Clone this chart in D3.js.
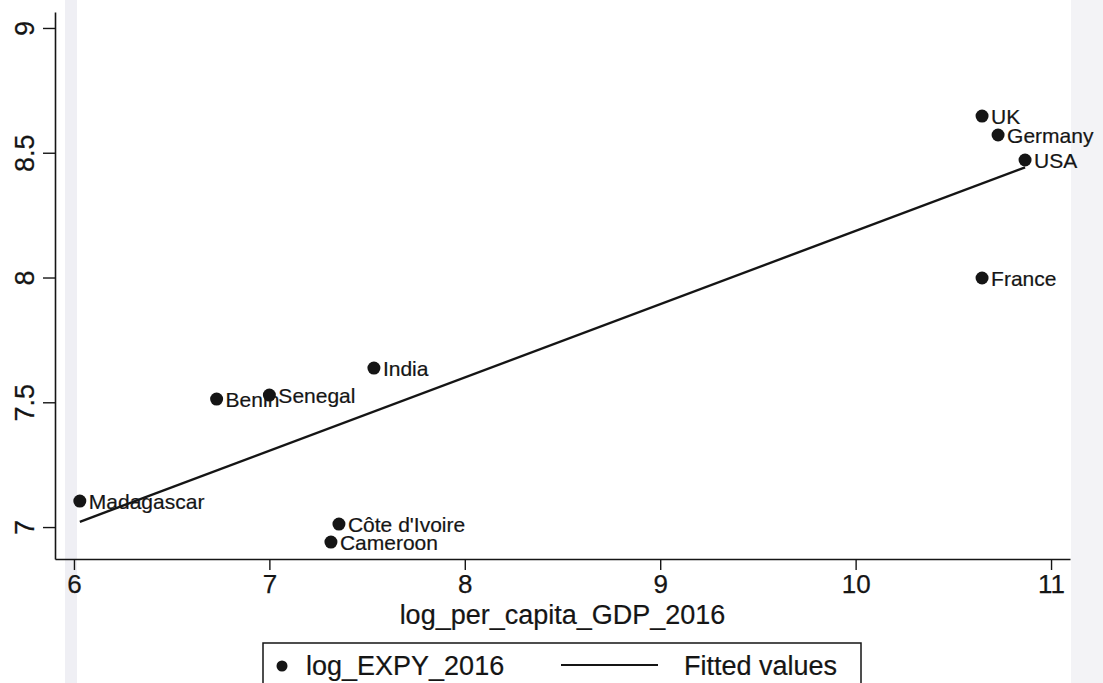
<!DOCTYPE html>
<html>
<head>
<meta charset="utf-8">
<script src="https://cdn.jsdelivr.net/npm/d3@7/dist/d3.min.js"></script>
<style>
  html, body { margin: 0; padding: 0; background: #ffffff; }
  svg { display: block; font-family: "Liberation Sans", Arial, sans-serif; }
</style>
</head>
<body>
<svg id="chart" width="1103" height="683"></svg>
<script>
// Countries with log per-capita GDP (2016) and log EXPY (2016)
const countries = ["Madagascar", "Benin", "Senegal", "India", "Côte d'Ivoire", "Cameroon", "UK", "Germany", "USA", "France"];
const logGDP   = [6.03, 6.73, 7.00, 7.535, 7.356, 7.315, 10.647, 10.729, 10.867, 10.647];
const logEXPY  = [7.104, 7.513, 7.529, 7.637, 7.012, 6.940, 8.647, 8.571, 8.471, 7.998];

const xTicks = [6, 7, 8, 9, 10, 11];
const yTicks = [7, 7.5, 8, 8.5, 9];
const xTitle = "log_per_capita_GDP_2016";
const legendLabels = ["log_EXPY_2016", "Fitted values"];

const svg = d3.select("#chart");
const ink = "#151515";

// faint scanner bands
svg.append("rect").attr("x", 65).attr("y", 0).attr("width", 12).attr("height", 683)
  .attr("fill", "#eaeaf0").attr("opacity", 0.75);
svg.append("rect").attr("x", 1071).attr("y", 0).attr("width", 32).attr("height", 683)
  .attr("fill", "#f3f3f6");

// plot region
const plot = { left: 55, right: 1070, top: 12, bottom: 559 };

const x = d3.scaleLinear().domain([5.903, 11.097]).range([plot.left, plot.right]);
const y = d3.scaleLinear().domain([6.872, 9.064]).range([plot.bottom, plot.top]);

// least-squares fit of log_EXPY on log GDP
const mx = d3.mean(logGDP), my = d3.mean(logEXPY);
const sxy = d3.sum(logGDP, (v, i) => (v - mx) * (logEXPY[i] - my));
const sxx = d3.sum(logGDP, v => (v - mx) * (v - mx));
const slope = sxy / sxx, intercept = my - slope * mx;
const fitted = d3.extent(logGDP).map(v => [v, intercept + slope * v]);

// axes
const xAxis = d3.axisBottom(x).tickValues(xTicks).tickFormat(d3.format("d"))
  .tickSizeInner(11).tickSizeOuter(0);
const yAxis = d3.axisLeft(y).tickValues(yTicks).tickFormat(d => String(d))
  .tickSizeInner(12).tickSizeOuter(0);

const gx = svg.append("g").attr("transform", `translate(0,${plot.bottom})`).call(xAxis);
gx.select(".domain").attr("stroke", ink).attr("stroke-width", 1.6);
gx.selectAll(".tick line").attr("stroke", ink).attr("stroke-width", 1.4);
gx.selectAll(".tick text").attr("fill", ink).attr("font-size", 26)
  .attr("stroke", ink).attr("stroke-width", 0.25)
  .attr("y", 34).attr("dy", null);

const gy = svg.append("g").attr("transform", `translate(${plot.left},0)`).call(yAxis);
gy.select(".domain").attr("stroke", ink).attr("stroke-width", 1.6);
gy.selectAll(".tick line").attr("stroke", ink).attr("stroke-width", 1.4);
gy.selectAll(".tick text").attr("fill", ink).attr("font-size", 27)
  .attr("stroke", ink).attr("stroke-width", 0.25)
  .attr("text-anchor", "middle").attr("x", 0).attr("dy", 0)
  .attr("transform", "translate(-21,0) rotate(-90)");

// axis title
svg.append("text").attr("x", (x(6) + x(11)) / 2).attr("y", 624)
  .attr("text-anchor", "middle").attr("font-size", 27).attr("fill", ink)
  .attr("stroke", ink).attr("stroke-width", 0.2)
  .text(xTitle);

// fitted line
svg.append("path")
  .datum(fitted)
  .attr("d", d3.line().x(d => x(d[0])).y(d => y(d[1])))
  .attr("fill", "none").attr("stroke", ink).attr("stroke-width", 2.4);

// markers and labels
const pts = svg.append("g").selectAll("g").data(countries).join("g")
  .attr("transform", (d, i) => `translate(${x(logGDP[i])},${y(logEXPY[i])})`);
pts.append("circle").attr("r", 6.5).attr("fill", ink);
pts.append("text").attr("x", 9).attr("dy", "0.36em")
  .attr("font-size", 21).attr("fill", ink)
  .attr("stroke", ink).attr("stroke-width", 0.2)
  .text(d => d);

// legend
const lg = svg.append("g").attr("transform", "translate(263,643)");
lg.append("rect").attr("width", 598).attr("height", 60)
  .attr("fill", "#ffffff").attr("stroke", ink).attr("stroke-width", 1.5);
lg.append("circle").attr("cx", 19).attr("cy", 23).attr("r", 5.5).attr("fill", ink);
lg.append("text").attr("x", 43).attr("y", 32).attr("font-size", 27).attr("fill", ink)
  .attr("stroke", ink).attr("stroke-width", 0.2)
  .text(legendLabels[0]);
lg.append("line").attr("x1", 298).attr("x2", 395).attr("y1", 22).attr("y2", 22)
  .attr("stroke", ink).attr("stroke-width", 2.2);
lg.append("text").attr("x", 421).attr("y", 32).attr("font-size", 27).attr("fill", ink)
  .attr("stroke", ink).attr("stroke-width", 0.2)
  .text(legendLabels[1]);
</script>
</body>
</html>
